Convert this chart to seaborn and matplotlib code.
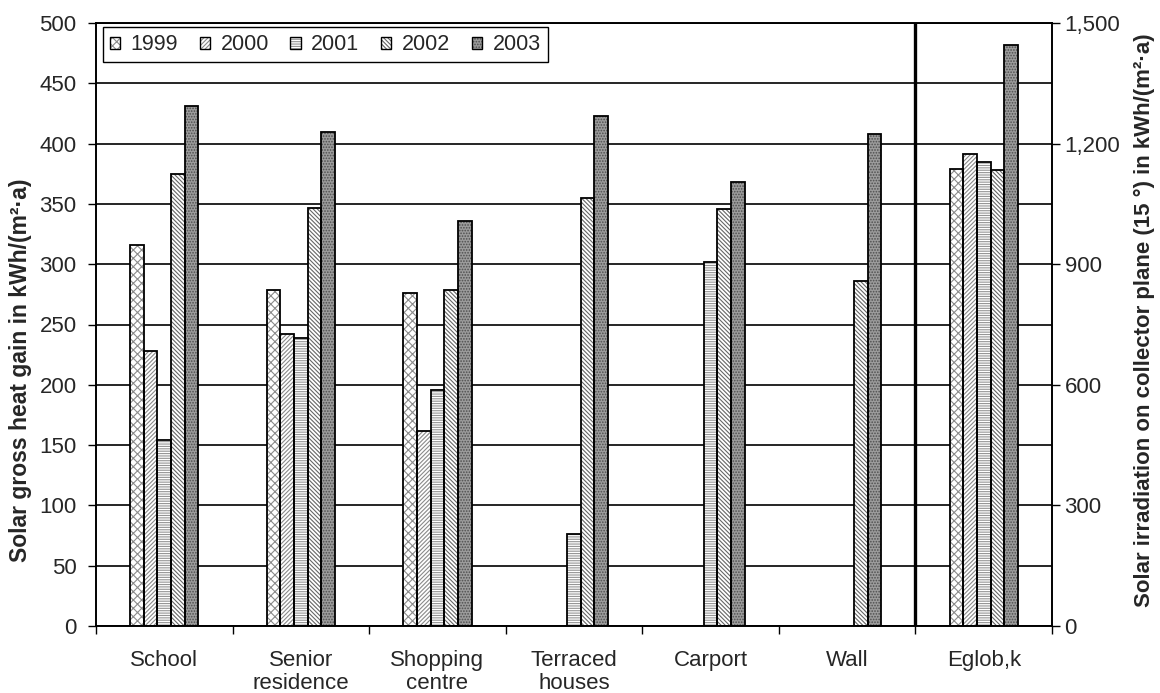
import numpy as np
import pandas as pd
import matplotlib
matplotlib.use("Agg")
import matplotlib.pyplot as plt
import seaborn as sns
from matplotlib.patches import Rectangle, Patch
from matplotlib.legend_handler import HandlerTuple
from matplotlib.ticker import FuncFormatter, MultipleLocator, FixedLocator

nan = np.nan
categories = ["School", "Senior\nresidence", "Shopping\ncentre", "Terraced\nhouses",
              "Carport", "Wall", "Eglob,k"]
years = ["1999", "2000", "2001", "2002", "2003"]
school = [316, 228, 154, 375, 431]
senior = [279, 242, 239, 347, 410]
shopping = [276, 162, 196, 279, 336]
terraced = [nan, nan, 76, 355, 423]
carport = [nan, nan, 302, 346, 368]
wall = [nan, nan, nan, 286, 408]
eglob = [1136, 1173, 1155, 1134, 1445]

left_series = [school, senior, shopping, terraced, carport, wall]

rows = []
for cat, vals in zip(categories[:6], left_series):
    for y, v in zip(years, vals):
        rows.append({"cat": cat, "year": y, "val": v})
df_left = pd.DataFrame(rows).dropna()
df_right = pd.DataFrame({"cat": categories[6], "year": years, "val": eglob})

styles = {
    "1999": dict(fc="white", hc="#8c8c8c", hatch="xxxx"),
    "2000": dict(fc="white", hc="#8a8a8a", hatch="////////"),
    "2001": dict(fc="white", hc="#959595", hatch="-------"),
    "2002": dict(fc="white", hc="#666666", hatch="\\\\\\\\\\\\\\\\"),
    "2003": dict(fc="#9c9c9c", hc="#4e4e4e", hatch="......"),
}

FS = 16

sns.set_style("white")
plt.rcParams["font.family"] = ["Liberation Sans", "DejaVu Sans"]
plt.rcParams["hatch.linewidth"] = 0.8

fig = plt.figure(figsize=(11.6, 6.93), dpi=100)
ax = fig.add_axes([96 / 1160, 1 - 626 / 693, (1052 - 96) / 1160, (626 - 23) / 693])
ax2 = ax.twinx()

sns.barplot(data=df_left, x="cat", y="val", hue="year", order=categories,
            hue_order=years, width=0.5, gap=0, ax=ax, legend=False, errorbar=None)
sns.barplot(data=df_right, x="cat", y="val", hue="year", order=categories,
            hue_order=years, width=0.5, gap=0, ax=ax2, legend=False, errorbar=None)


def style_axis(a):
    for cont, yr in zip(a.containers, years):
        st = styles[yr]
        for p in cont.patches:
            if np.isnan(p.get_height()) or p.get_height() == 0:
                continue
            p.set_facecolor(st["fc"])
            p.set_edgecolor(st["hc"])
            p.set_hatch(st["hatch"])
            p.set_linewidth(0)
            a.add_patch(Rectangle(p.get_xy(), p.get_width(), p.get_height(),
                                  fill=False, ec="black", lw=1.3, zorder=p.get_zorder() + 0.1))


style_axis(ax)
style_axis(ax2)

ax.set_ylim(0, 500)
ax2.set_ylim(0, 1500)
ax.set_xlim(-0.5, 6.5)
ax.yaxis.set_major_locator(MultipleLocator(50))
ax2.yaxis.set_major_locator(MultipleLocator(300))
ax2.yaxis.set_major_formatter(FuncFormatter(lambda v, p: f"{int(v):,}"))

ax.set_axisbelow(True)
ax.yaxis.grid(True, color="black", lw=1.2)
ax.xaxis.grid(False)
ax.axvline(5.5, color="black", lw=2.4, zorder=1)

ax.set_xticks(np.arange(-0.5, 7.0, 1.0))
ax.set_xticklabels([])
ax.xaxis.set_minor_locator(FixedLocator(np.arange(0, 7)))
ax.set_xticklabels(categories, minor=True)
ax.tick_params(axis="x", which="major", direction="out", length=6, width=1, color="black", bottom=True)
ax.tick_params(axis="x", which="minor", length=0, labelsize=FS, pad=17, bottom=True)
ax.tick_params(axis="y", direction="out", length=6, width=1, color="black", labelsize=FS, left=True, pad=8)
ax2.tick_params(axis="y", direction="out", length=6, width=1, color="black", labelsize=FS, right=True, pad=3)
for t in ax.xaxis.get_minorticklabels():
    t.set_linespacing(1.15)

for a in (ax, ax2):
    for s in a.spines.values():
        s.set_color("black")
        s.set_linewidth(1.2)

ax.set_xlabel("")
ax.set_ylabel("Solar gross heat gain in kWh/(m²·a)", fontsize=16.5, fontweight="bold")
ax.yaxis.set_label_coords(-0.0665, 0.4245)
ax2.set_xlabel("")
ax2.set_ylabel("Solar irradiation on collector plane (15 °) in kWh/(m²·a)", fontsize=16,
               fontweight="bold")
ax2.yaxis.set_label_coords(1.0852, 0.5075)

handles = []
for yr in years:
    st = styles[yr]
    hp = Patch(facecolor=st["fc"], edgecolor=st["hc"], hatch=st["hatch"], lw=0)
    op = Patch(facecolor="none", edgecolor="black", lw=1.0)
    handles.append((hp, op))
leg = ax.legend(handles, years, handler_map={tuple: HandlerTuple(ndivide=1)},
                ncol=5, loc="upper left", bbox_to_anchor=(0.007, 0.993), borderaxespad=0,
                fontsize=15.5, handlelength=0.47, handleheight=0.47, handletextpad=0.5,
                columnspacing=1.0, fancybox=False, framealpha=1, edgecolor="black",
                borderpad=0.33)
leg.get_frame().set_linewidth(1.0)
leg.set_zorder(10)

fig.savefig("out.png", dpi=100)
